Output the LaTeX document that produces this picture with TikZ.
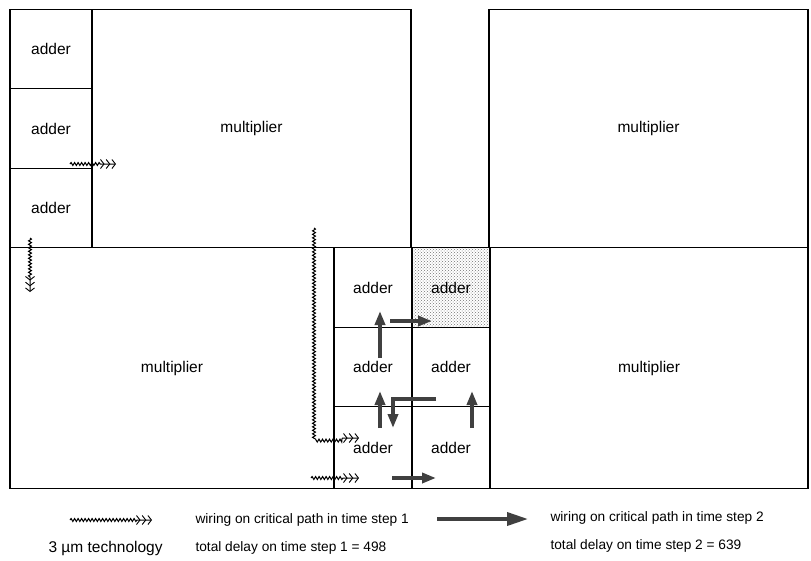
\documentclass[tikz,border=0pt]{standalone}
\usepackage{fontspec}
\setmainfont{Liberation Sans}
\usetikzlibrary{arrows.meta,decorations.pathmorphing,patterns}

\tikzset{
  block/.style={draw, line width=1.4pt, inner sep=0pt, font=\fontsize{15.5}{18}\selectfont},
  chev/.tip={Straight Barb[length=3.5pt,width=9pt,line width=0.9pt]},
  wirea/.style={line width=1pt, decorate,
    decoration={snake, amplitude=1.5pt, segment length=3.5pt, post length=15pt},
    -{chev[sep=1.2pt] chev[sep=1.2pt] chev}},
  wireb/.style={line width=3.6pt, black!75, -{Triangle[length=14pt,width=10pt]}},
  legend/.style={anchor=west, font=\fontsize{13.7}{16}\selectfont}
}

\begin{document}
\begin{tikzpicture}[x=1pt, y=-1pt]
\useasboundingbox (0,0) rectangle (811,560);
% the three adders on the left
\foreach \i/\y in {1/49,2/128.5,3/208}
  \node[block, minimum width=82pt, minimum height=79.5pt] (addL\i) at (51,\y) {adder};
% the four multipliers
\node[block, minimum width=319pt, minimum height=238pt] (multTL) at (251.5,128.5) {multiplier};
\node[block, minimum width=319pt, minimum height=238pt] (multTR) at (648.5,128.5) {multiplier};
\node[block, minimum width=324pt, minimum height=241pt] (multBL) at (172,368) {multiplier};
\node[block, minimum width=318pt, minimum height=241pt] (multBR) at (649,368) {multiplier};
% the adders in the middle
\node[block, minimum width=78pt, minimum height=80pt] (add11) at (373,287.5) {adder};
\node[block, minimum width=78pt, minimum height=80pt, pattern=crosshatch dots, pattern color=black!55] (add12) at (451,287.5) {adder};
\node[block, minimum width=78pt, minimum height=79pt] (add21) at (373,367) {adder};
\node[block, minimum width=78pt, minimum height=82pt] (add31) at (373,447.5) {adder};
\node[block, minimum width=78pt, minimum height=79pt] (add22) at (451,367) {adder};
\node[block, minimum width=78pt, minimum height=82pt] (add32) at (451,447.5) {adder};
% wiring in time step 1
\draw[wirea] (70,164) -- (116,164);
\draw[wirea] (30,238) -- (30,292);
\draw[wirea] (314,228) -- (314,438) -- (359,438);
\draw[wirea] (311,478) -- (359,478);
% wiring in time step 2
\draw[wireb] (380,358) -- (380,311);
\draw[wireb] (390,321) -- (432,321);
\draw[wireb] (380,428) -- (380,391);
\draw[wireb] (436,399) -- (393,399) -- (393,428);
\draw[wireb] (472,428) -- (472,391);
\draw[wireb] (392,478) -- (436,478);
% the legend
\draw[wirea] (70,520) -- (152,520);
\node[legend] (lega) at (192,520) {wiring on critical path in time step 1};
\draw[wireb, -{Triangle[length=21pt,width=13pt]}] (437,519) -- (528,519);
\node[legend] (legb) at (547,518) {wiring on critical path in time step 2};
\node[anchor=west, font=\fontsize{15.5}{18}\selectfont] (tech) at (45,548) {3 µm technology};
\node[legend] (dela) at (192,548) {total delay on time step 1 = 498};
\node[legend] (delb) at (547,546) {total delay on time step 2 = 639};
\end{tikzpicture}
\end{document}
